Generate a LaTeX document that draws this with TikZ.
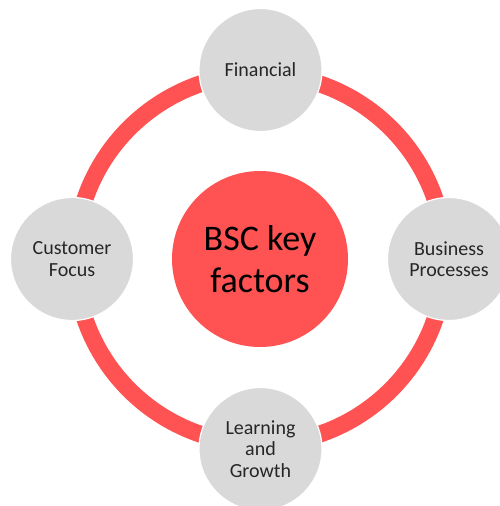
\documentclass[tikz,border=0pt]{standalone}
\usepackage{fontspec}
\setmainfont{Carlito}
\definecolor{ringred}{HTML}{FF5353}
\definecolor{satgrey}{HTML}{D9D9D9}
\definecolor{txtdark}{HTML}{262626}
\begin{document}
\begin{tikzpicture}[x=1pt,y=-1pt,
  satellite/.style={circle,fill=satgrey,draw=white,line width=1.2pt,
    minimum size=123pt,inner sep=0pt,align=center,text=txtdark,
    font=\fontsize{20}{21.5}\selectfont},
  hub/.style={circle,fill=ringred,minimum size=176pt,inner sep=0pt,
    align=center,text=black,font=\fontsize{36}{42}\selectfont},
  ringline/.style={draw=ringred,line width=17pt}]
  \useasboundingbox (0,0) rectangle (499,506);
  \coordinate (c) at (260,259);
  % outer ring linking the four perspectives
  \draw[ringline] (c) circle[radius=185];
  % central hub
  \node[hub] (hub) at (c) {BSC key\\factors};
  % the four perspectives
  \node[satellite] (fin) at (260.5,70) {Financial};
  \node[satellite] (cust) at (72,259) {Customer\\Focus};
  \node[satellite] (bus) at (449,259) {Business\\Processes};
  \node[satellite] (learn) at (260.5,449) {Learning\\and\\Growth};
\end{tikzpicture}
\end{document}
